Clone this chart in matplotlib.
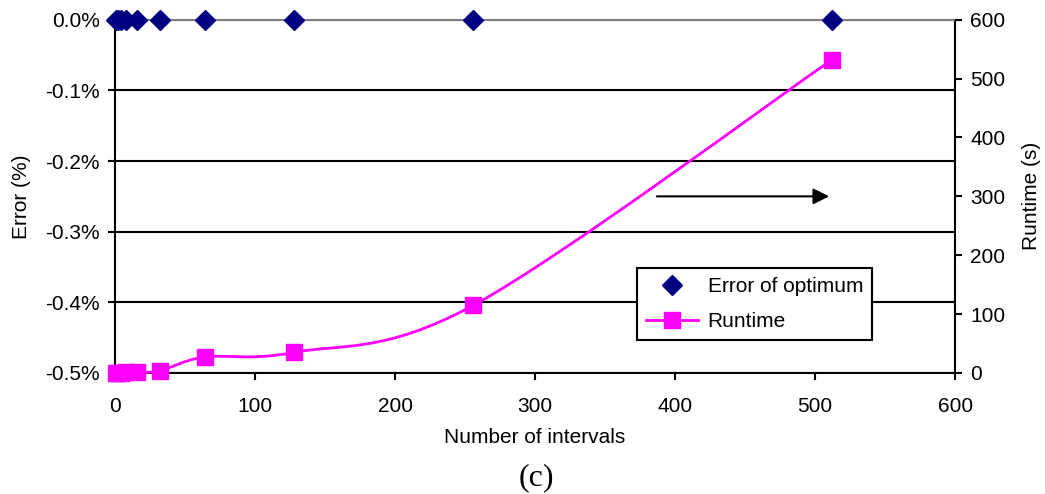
import numpy as np
import matplotlib.pyplot as plt
from matplotlib.path import Path
from matplotlib.patches import PathPatch
from matplotlib.ticker import FuncFormatter

plt.rcParams['font.family'] = ['Liberation Sans', 'DejaVu Sans']

intervals = [1, 2, 4, 8, 16, 32, 64, 128, 256, 512]
error_pct = [0, 0, 0, 0, 0, 0, 0, 0, 0, 0]
runtime_s = [0.1, 0.2, 0.5, 1, 2, 3.5, 27, 35, 115, 532]

fs = 15

def pct(v, p):
    v = round(v, 1) + 0.0
    return f"{v:.1f}%" if v != 0 else "0.0%"

fig = plt.figure(figsize=(10.45, 4.94), dpi=100)
ax = fig.add_axes([0.110, 0.245, 0.804, 0.715])
ax2 = ax.twinx()

# left axis: error
ax.set_xlim(0, 600)
ax.set_ylim(-0.5, 0.0)
ax.set_yticks(np.arange(-0.5, 0.01, 0.1))
ax.yaxis.set_major_formatter(FuncFormatter(pct))
ax.set_xticks(range(0, 601, 100))
ax.grid(axis='y', color='black', linewidth=1.5)
ax.set_axisbelow(True)
for s in ['left', 'bottom', 'right']:
    ax.spines[s].set_linewidth(1.5)
ax.spines['top'].set_color('#808080')
ax.spines['top'].set_linewidth(1.5)
ax.tick_params(direction='out', length=5, width=1.5, labelsize=fs, pad=6)
ax.tick_params(axis='x', pad=12)
ax.set_xlabel('Number of intervals', fontsize=fs, labelpad=9)
ax.set_ylabel('Error (%)', fontsize=fs, labelpad=10)

# right axis: runtime
ax2.set_ylim(0, 600)
ax2.set_yticks(range(0, 601, 100))
ax2.tick_params(direction='out', length=5, width=1.5, labelsize=fs, pad=6)
ax2.set_ylabel('Runtime (s)', fontsize=fs, labelpad=12)
for s in ax2.spines.values():
    s.set_visible(False)

# smoothed runtime line (Excel-like bezier through points)
pts = np.column_stack([intervals, runtime_s]).astype(float)
verts = [pts[0]]
codes = [Path.MOVETO]
n = len(pts)
for i in range(n - 1):
    p0 = pts[i - 1] if i > 0 else pts[i]
    p1 = pts[i]
    p2 = pts[i + 1]
    p3 = pts[i + 2] if i + 2 < n else pts[i + 1]
    c1 = p1 + (p2 - p0) / 6
    c2 = p2 - (p3 - p1) / 6
    verts += [c1, c2, p2]
    codes += [Path.CURVE4] * 3
ax2.add_patch(PathPatch(Path(verts, codes), facecolor='none', edgecolor='#FF00FF',
                        linewidth=2, clip_on=False, zorder=3))
ax2.plot(intervals, runtime_s, linestyle='none', marker='s', markersize=11.5,
         color='#FF00FF', clip_on=False, zorder=4)

ax.plot(intervals, error_pct, linestyle='none', marker='D', markersize=10.5,
        color='#000080', clip_on=False, zorder=5)

# arrow pointing to the right axis
ax2.annotate('', xy=(512, 300), xytext=(385, 300),
             arrowprops=dict(arrowstyle='-|>', color='black', lw=1.5, mutation_scale=24))

# legend
h1 = plt.Line2D([], [], linestyle='none', marker='D', markersize=10, color='#000080')
h2 = plt.Line2D([], [], color='#FF00FF', linewidth=2, marker='s', markersize=11.5)
leg = ax2.legend([h1, h2], ['Error of optimum', 'Runtime'], loc='upper left',
                 bbox_to_anchor=(0.621, 0.297), fontsize=fs, frameon=True,
                 fancybox=False, edgecolor='black', framealpha=1,
                 borderpad=0.45, handlelength=2.5, handletextpad=0.45,
                 labelspacing=0.75, borderaxespad=0)
leg.get_frame().set_linewidth(1.5)

fig.text(0.513, 0.018, '(c)', ha='center', fontsize=23, family='Liberation Serif')

fig.savefig('out.png', dpi=100)
